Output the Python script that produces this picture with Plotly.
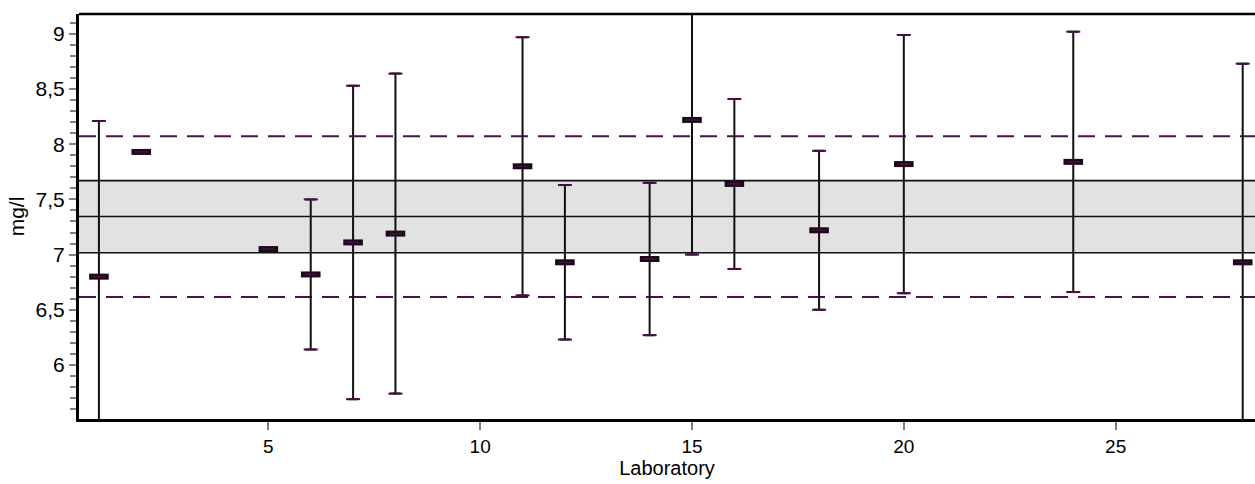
import plotly.graph_objects as go

labs = [1, 2, 5, 6, 7, 8, 11, 12, 14, 15, 16, 18, 20, 24, 28]
values = [6.80, 7.93, 7.05, 6.82, 7.11, 7.19, 7.80, 6.93, 6.96, 8.22, 7.64, 7.22, 7.82, 7.84, 6.93]
uncert = [1.41, 0.0, 0.0, 0.68, 1.42, 1.45, 1.17, 0.70, 0.69, 1.22, 0.77, 0.72, 1.17, 1.18, 1.80]

mean_val = 7.345
band_low, band_high = 7.017, 7.670
dash_low, dash_high = 6.615, 8.073

x_range = [0.53, 28.29]
y_range = [5.51, 9.18]

fig = go.Figure()

# grey band
fig.add_shape(type="rect", xref="paper", yref="y", x0=0, x1=1, y0=band_low, y1=band_high,
              fillcolor="#e2e2e2", line=dict(width=0), layer="below")
for yv in (band_low, mean_val, band_high):
    fig.add_shape(type="line", xref="paper", yref="y", x0=0, x1=1, y0=yv, y1=yv,
                  line=dict(color="#111111", width=1.6), layer="below")
for yv in (dash_low, dash_high):
    fig.add_shape(type="line", xref="paper", yref="y", x0=0, x1=1, y0=yv, y1=yv,
                  line=dict(color="#4f0f4f", width=2, dash="17px,10px"), layer="below")

# top border
fig.add_shape(type="line", xref="paper", yref="paper", x0=0, x1=1, y0=1, y1=1,
              line=dict(color="black", width=2.5))

err_labs = [l for l, u in zip(labs, uncert) if u > 0]
err_vals = [v for v, u in zip(values, uncert) if u > 0]
err_u = [u for u in uncert if u > 0]

fig.add_trace(go.Scatter(
    x=err_labs, y=err_vals, mode="markers",
    marker=dict(size=1, color="rgba(0,0,0,0)"),
    error_y=dict(type="data", array=err_u, visible=True, color="#111111", thickness=2, width=5),
    showlegend=False, hoverinfo="skip"))

# caps tint
fig.add_trace(go.Scatter(
    x=err_labs + err_labs,
    y=[v + u for v, u in zip(err_vals, err_u)] + [v - u for v, u in zip(err_vals, err_u)],
    mode="markers",
    marker=dict(symbol="line-ew", size=10, line=dict(color="#4a0a4a", width=2)),
    showlegend=False, hoverinfo="skip", cliponaxis=True))

# result markers
fig.add_trace(go.Scatter(
    x=labs, y=values, mode="markers",
    marker=dict(symbol="line-ew", size=14, line=dict(color="#1a0a1a", width=6)),
    showlegend=False))
fig.add_trace(go.Scatter(
    x=labs, y=values, mode="markers",
    marker=dict(symbol="line-ew", size=9, line=dict(color="#4a0f4a", width=1.5)),
    showlegend=False, hoverinfo="skip"))

fig.update_layout(
    width=1255, height=484,
    margin=dict(l=79, r=0, t=14, b=65),
    plot_bgcolor="white", paper_bgcolor="white",
    separators=",.",
    font=dict(family="Liberation Sans, Arial", size=19, color="black"),
    xaxis=dict(range=x_range, tickvals=[5, 10, 15, 20, 25], ticks="outside", ticklen=8,
               tickcolor="#808080", tickwidth=2, showgrid=False, zeroline=False,
               showline=True, linecolor="black", linewidth=3,
               title=dict(text="Laboratory", font=dict(size=20), standoff=2),
               tickfont=dict(size=19)),
    yaxis=dict(range=y_range, tickvals=[6, 6.5, 7, 7.5, 8, 8.5, 9], ticks="outside", ticklen=7,
               tickcolor="#808080", tickwidth=2, showgrid=False, zeroline=False,
               showline=True, linecolor="black", linewidth=3,
               minor=dict(dtick=0.1, tick0=0, ticks="outside", ticklen=6, tickcolor="#808080", tickwidth=2),
               title=dict(text="mg/l", font=dict(size=21), standoff=6),
               tickfont=dict(size=21)),
)

fig.write_html("out.html")
